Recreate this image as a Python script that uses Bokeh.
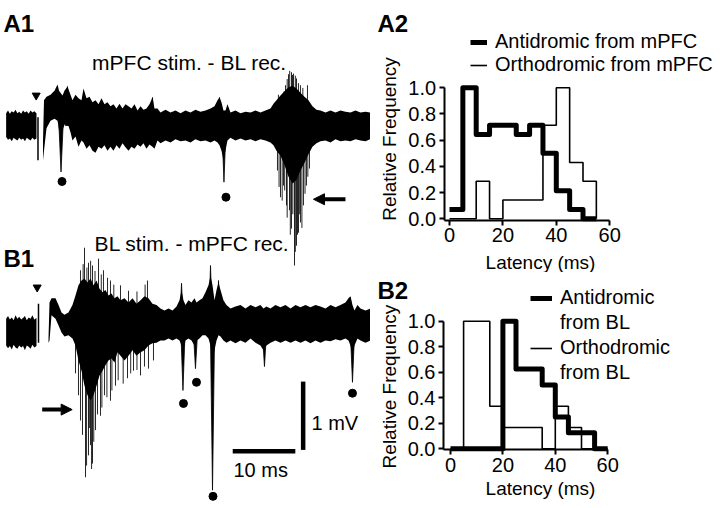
import math
import numpy as np
from bokeh.plotting import figure
from bokeh.layouts import row, column
from bokeh.models import (Range1d, Label, Arrow, NormalHead, Legend, LegendItem,
                          PrintfTickFormatter, FixedTicker, LinearAxis)
from bokeh.embed import file_html
from bokeh.resources import INLINE

FONT = "Liberation Sans"

# ---------------- A1 : mPFC stim. - BL rec. (time ms, voltage mV) ----------------
a1_pre_t = [0.10, 0.40, 0.70, 1.00, 1.30, 1.60, 1.90, 2.20, 2.50, 2.80, 3.10, 3.40, 3.70, 4.00,
            4.30, 4.60, 4.95]
a1_pre_hi = [0.18, 0.22, 0.17, 0.21, 0.19, 0.23, 0.18, 0.20, 0.17, 0.22, 0.19, 0.21, 0.17, 0.22,
             0.19, 0.21, 0.18]
a1_pre_lo = [-0.17, -0.21, -0.19, -0.23, -0.18, -0.20, -0.22, -0.18, -0.21, -0.19, -0.23, -0.18,
             -0.20, -0.22, -0.18, -0.21, -0.19]
a1_t = [5.99, 6.15, 6.55, 7.19, 7.83, 8.31, 8.55, 9.11, 9.42, 9.90, 10.38, 10.70, 11.18, 11.66,
        12.14, 12.46, 12.94, 13.42, 13.90, 14.38, 14.86, 15.34, 15.81, 16.29, 16.77, 17.25, 17.73,
        18.21, 18.69, 19.17, 19.65, 20.13, 20.61, 21.09, 21.57, 22.04, 22.52, 23.00, 23.48, 23.80,
        24.28, 24.76, 25.56, 26.36, 27.16, 27.96, 28.75, 29.55, 30.35, 31.15, 31.95, 32.75, 33.39,
        33.87, 34.19, 34.50, 34.82, 35.14, 35.46, 35.94, 36.74, 37.54, 38.34, 39.14, 39.94, 40.73,
        41.53, 42.33, 42.81, 43.29, 43.93, 44.57, 45.21, 45.85, 46.49, 47.12, 47.76, 48.40, 49.04,
        49.68, 50.32, 51.12, 51.92, 52.72, 53.51, 54.31, 55.11, 55.91, 56.71, 57.51, 58.31]
a1_hi = [-0.22, 0.37, 0.42, 0.45, 0.51, 0.60, 0.51, 0.44, 0.51, 0.57, 0.45, 0.37, 0.45, 0.40,
         0.37, 0.54, 0.40, 0.42, 0.34, 0.37, 0.31, 0.40, 0.31, 0.34, 0.28, 0.31, 0.25, 0.32, 0.25,
         0.31, 0.28, 0.25, 0.31, 0.22, 0.28, 0.23, 0.25, 0.31, 0.41, 0.25, 0.25, 0.19, 0.23, 0.19,
         0.22, 0.18, 0.22, 0.19, 0.23, 0.20, 0.22, 0.25, 0.28, 0.37, 0.41, 0.34, 0.22, 0.22, 0.31,
         0.19, 0.22, 0.18, 0.20, 0.19, 0.22, 0.19, 0.22, 0.25, 0.32, 0.37, 0.44, 0.50, 0.56, 0.58,
         0.54, 0.48, 0.42, 0.37, 0.28, 0.23, 0.22, 0.19, 0.22, 0.19, 0.22, 0.20, 0.19, 0.22, 0.19,
         0.20, 0.19]
a1_lo = [-0.51, -0.37, -0.04, 0.07, 0.10, 0.07, -0.07, -0.07, 0.01, 0.04, -0.10, -0.22, -0.16,
         -0.31, -0.22, -0.25, -0.34, -0.29, -0.37, -0.40, -0.31, -0.34, -0.29, -0.37, -0.31, -0.37,
         -0.29, -0.34, -0.26, -0.32, -0.37, -0.31, -0.34, -0.28, -0.31, -0.26, -0.34, -0.28, -0.31,
         -0.34, -0.22, -0.26, -0.22, -0.25, -0.20, -0.23, -0.22, -0.25, -0.20, -0.23, -0.22, -0.25,
         -0.22, -0.25, -0.29, -0.37, -0.51, -0.37, -0.22, -0.18, -0.22, -0.19, -0.22, -0.20, -0.23,
         -0.20, -0.22, -0.25, -0.29, -0.37, -0.44, -0.58, -0.75, -0.85, -0.80, -0.66, -0.55, -0.42,
         -0.31, -0.26, -0.23, -0.22, -0.25, -0.20, -0.23, -0.22, -0.23, -0.20, -0.22, -0.23, -0.20]
a1_art_t, a1_art_top, a1_art_bot = [5.19], [0.12], [-0.51]
a1_spk_t = [43.45, 43.70, 43.93, 44.20, 44.41, 44.60, 44.89, 45.00, 45.37, 45.50, 45.69, 45.90,
            46.17, 46.30, 46.49, 46.65, 46.81, 47.00, 47.12, 47.35, 47.60, 47.85, 48.08, 48.30,
            48.56,
            43.60, 44.50, 44.73, 45.00, 45.21, 45.40, 45.69, 45.85, 46.01, 46.30, 46.49, 46.80,
            47.12, 47.50, 48.24]
a1_spk_v = [-0.66, -0.90, -1.05, -1.10, -0.88, -0.95, -1.17, -1.35, -1.24, -1.60, -1.51, -1.30,
            -2.05, -1.85, -1.76, -1.60, -1.57, -1.30, -1.42, -1.50, -1.17, -1.00, -0.88, -0.75,
            -0.63,
            0.45, 0.50, 0.59, 0.68, 0.75, 0.80, 0.78, 0.74, 0.76, 0.73, 0.69, 0.62, 0.59, 0.55,
            0.59]
a1_big_t = [8.87, 34.90, 9.90, 23.48, 34.19]
a1_big_v = [-0.68, -0.83, 0.57, 0.41, 0.41]
a1_dot_t = [9.03, 35.22]
a1_dot_v = [-0.82, -1.05]
a1_stim_t, a1_stim_v = [4.90], [0.44]

# ---------------- B1 : BL stim. - mPFC rec. ----------------
b1_pre_t = [0.10, 0.40, 0.70, 1.00, 1.30, 1.60, 1.90, 2.20, 2.50, 2.80, 3.10, 3.40, 3.70, 4.00,
            4.30, 4.60, 4.95]
b1_pre_hi = [0.20, 0.24, 0.19, 0.22, 0.18, 0.25, 0.20, 0.23, 0.19, 0.21, 0.24, 0.18, 0.22, 0.20,
             0.25, 0.19, 0.21]
b1_pre_lo = [-0.19, -0.23, -0.20, -0.25, -0.18, -0.22, -0.24, -0.19, -0.22, -0.20, -0.26, -0.19,
             -0.21, -0.24, -0.18, -0.22, -0.20]
b1_t = [6.87, 7.03, 7.35, 7.99, 8.47, 8.95, 9.42, 10.06, 10.70, 11.18, 11.66, 12.14, 12.62, 13.10,
        13.58, 14.06, 14.54, 15.02, 15.50, 15.97, 16.45, 16.93, 17.41, 17.89, 18.37, 19.01, 19.65,
        20.29, 20.93, 21.57, 22.20, 22.84, 23.48, 24.12, 24.76, 25.40, 26.04, 26.68, 27.32, 27.80,
        28.12, 28.43, 28.75, 29.23, 29.71, 30.19, 30.51, 30.99, 31.47, 31.95, 32.43, 32.75, 33.07,
        33.39, 33.71, 34.03, 34.35, 34.82, 35.30, 35.94, 36.74, 37.54, 38.34, 39.14, 39.94, 40.73,
        41.21, 41.69, 42.33, 43.13, 43.93, 44.73, 45.53, 46.33, 47.12, 47.92, 48.72, 49.52, 50.32,
        51.12, 51.92, 52.72, 53.51, 54.31, 54.79, 55.11, 55.43, 55.75, 56.23, 56.71, 57.51, 58.31]
b1_hi = [-0.09, 0.44, 0.50, 0.50, 0.40, 0.29, 0.26, 0.29, 0.40, 0.54, 0.69, 0.76, 0.79, 0.73,
         0.79, 0.69, 0.76, 0.64, 0.59, 0.62, 0.54, 0.57, 0.50, 0.53, 0.47, 0.50, 0.44, 0.50, 0.42,
         0.47, 0.53, 0.50, 0.42, 0.40, 0.35, 0.32, 0.35, 0.32, 0.38, 0.47, 0.62, 0.47, 0.40, 0.47,
         0.44, 0.50, 0.44, 0.47, 0.50, 0.59, 0.69, 0.83, 0.69, 0.47, 0.62, 0.73, 0.62, 0.47, 0.40,
         0.35, 0.38, 0.40, 0.35, 0.40, 0.37, 0.40, 0.35, 0.38, 0.35, 0.40, 0.37, 0.40, 0.35, 0.40,
         0.37, 0.40, 0.37, 0.40, 0.38, 0.35, 0.40, 0.37, 0.40, 0.44, 0.50, 0.53, 0.40, 0.32, 0.40,
         0.35, 0.32, 0.35]
b1_lo = [-0.15, -0.12, 0.25, 0.20, 0.10, 0.00, -0.06, -0.04, -0.09, -0.19, -0.41, -0.56, -0.78,
         -0.92, -1.00, -0.92, -0.78, -0.63, -0.56, -0.48, -0.41, -0.38, -0.44, -0.29, -0.34, -0.41,
         -0.34, -0.26, -0.34, -0.29, -0.26, -0.19, -0.16, -0.15, -0.12, -0.12, -0.09, -0.12, -0.09,
         -0.12, -0.19, -0.26, -0.12, -0.09, -0.12, -0.19, -0.12, -0.09, -0.04, -0.04, -0.09, -0.19,
         -0.41, -0.26, -0.12, -0.04, -0.06, -0.12, -0.15, -0.12, -0.16, -0.12, -0.15, -0.09, -0.15,
         -0.19, -0.26, -0.19, -0.15, -0.12, -0.15, -0.12, -0.15, -0.12, -0.15, -0.12, -0.16, -0.12,
         -0.15, -0.12, -0.13, -0.10, -0.12, -0.09, -0.12, -0.19, -0.34, -0.19, -0.09, -0.12, -0.15,
         -0.12]
b1_art_t, b1_art_top, b1_art_bot = [5.27], [0.42], [-0.15]
b1_spk_t = [11.18, 11.66, 11.98, 12.30, 12.78, 12.95, 13.26, 13.40, 13.58, 13.75, 13.90, 14.10,
            14.38, 14.70, 15.18, 15.40, 15.81, 16.20, 16.77, 17.00, 17.57, 18.00, 18.80, 19.49,
            20.00, 20.45, 21.00, 21.57, 22.20, 22.84, 23.64,
            11.98, 12.40, 12.62, 13.00, 13.26, 13.60, 13.90, 14.30, 14.86, 15.30, 15.65, 16.30,
            16.77, 17.30, 18.37, 19.65, 21.00, 22.30, 22.68]
b1_spk_v = [-0.60, -0.92, -1.29, -1.50, -2.12, -1.95, -1.80, -1.40, -1.65, -2.00, -1.92, -1.60,
            -1.43, -1.20, -1.22, -1.10, -0.92, -0.95, -1.00, -0.85, -0.78, -0.70, -0.75, -0.67,
            -0.60, -0.56, -0.55, -0.63, -0.50, -0.53, -0.41,
            0.91, 1.00, 1.24, 0.95, 1.02, 1.05, 0.98, 0.90, 1.08, 0.85, 0.91, 0.80, 0.76, 0.70,
            0.69, 0.61, 0.60, 0.70, 0.76]
b1_big_t = [28.35, 30.35, 33.07, 41.37, 55.43, 28.12, 32.75, 34.03, 55.11]
b1_big_v = [-0.85, -0.53, -2.31, -0.50, -0.73, 0.72, 0.98, 0.76, 0.51]
b1_dot_t = [28.43, 30.51, 33.15, 55.43]
b1_dot_v = [-1.04, -0.73, -2.40, -0.89]
b1_stim_t, b1_stim_v = [5.06], [0.66]

# scale bars
scale_ms = 10.0
scale_mv = 1.0

# ---------------- Histograms (relative frequency, 5 ms bins) ----------------
bin_ms = 5
a2_anti = [0.071, 1.0, 0.643, 0.714, 0.714, 0.643, 0.714, 0.5, 0.214, 0.071, 0.0]
a2_ortho = [0.0, 0.0, 0.286, 0.0, 0.143, 0.143, 0.143, 0.714, 1.0, 0.429, 0.286]
b2_anti = [0.0, 0.0, 0.0, 0.0, 1.0, 0.625, 0.625, 0.5, 0.25, 0.125, 0.125, 0.0]
b2_ortho = [0.0, 1.0, 1.0, 0.333, 0.167, 0.167, 0.167, 0.0, 0.333, 0.167, 0.0, 0.0]
x_ticks = [0, 20, 40, 60]
y_ticks = [0.0, 0.2, 0.4, 0.6, 0.8, 1.0]

# ======================= left panel (traces) =======================
OFF_A1 = 0.0
OFF_B1 = -3.03

pL = figure(width=370, height=508, x_range=Range1d(-0.80, 58.31), y_range=Range1d(-5.608, 1.830),
            output_backend="svg", toolbar_location=None, x_axis_location=None,
            y_axis_location=None, min_border=0)
pL.grid.visible = False
pL.outline_line_color = None


def draw_trace(off, pre_t, pre_hi, pre_lo, t, hi, lo, art_t, art_top, art_bot,
               spk_t, spk_v, big_t, big_v, dot_t, dot_v, stim_t, stim_v):
    pL.varea(x=pre_t, y1=np.array(pre_lo) + off, y2=np.array(pre_hi) + off, color="black")
    pL.varea(x=t, y1=np.array(lo) + off, y2=np.array(hi) + off, color="black")
    pL.segment(x0=art_t, y0=np.array(art_top) + off, x1=art_t, y1=np.array(art_bot) + off,
               line_color="black", line_width=1.5)
    pL.segment(x0=spk_t, y0=[off] * len(spk_t), x1=spk_t, y1=np.array(spk_v) + off,
               line_color="black", line_width=1, line_alpha=0.85)
    half = 0.33
    xs = [[ti - half, ti + half, ti] for ti in big_t]
    ys = [[off, off, off + vi] for vi in big_v]
    pL.patches(xs=xs, ys=ys, color="black", line_width=0.8)
    pL.scatter(x=dot_t, y=np.array(dot_v) + off, marker="circle", size=8, color="black")
    pL.scatter(x=stim_t, y=np.array(stim_v) + off, marker="inverted_triangle", size=8,
               color="black")


draw_trace(OFF_A1, a1_pre_t, a1_pre_hi, a1_pre_lo, a1_t, a1_hi, a1_lo, a1_art_t, a1_art_top,
           a1_art_bot, a1_spk_t, a1_spk_v, a1_big_t, a1_big_v, a1_dot_t, a1_dot_v, a1_stim_t,
           a1_stim_v)
draw_trace(OFF_B1, b1_pre_t, b1_pre_hi, b1_pre_lo, b1_t, b1_hi, b1_lo, b1_art_t, b1_art_top,
           b1_art_bot, b1_spk_t, b1_spk_v, b1_big_t, b1_big_v, b1_dot_t, b1_dot_v, b1_stim_t,
           b1_stim_v)

# arrows marking the bursts
a1_arrow = dict(x_start=54.31, x_end=49.20, y=-1.08)
b1_arrow = dict(x_start=5.86, x_end=10.65, y=-1.13)
for arr, off in ((a1_arrow, OFF_A1), (b1_arrow, OFF_B1)):
    pL.add_layout(Arrow(end=NormalHead(size=11, fill_color="black", line_color="black"),
                        x_start=arr["x_start"], y_start=arr["y"] + off, x_end=arr["x_end"],
                        y_end=arr["y"] + off, line_width=4, line_color="black"))

# scale bars
sb_x0, sb_y0 = 36.3, -4.77
pL.segment(x0=[sb_x0], y0=[sb_y0], x1=[sb_x0 + scale_ms], y1=[sb_y0], line_width=4.5,
           line_color="black")
pL.segment(x0=[47.55], y0=[sb_y0 + 0.02], x1=[47.55], y1=[sb_y0 + 0.02 + scale_mv],
           line_width=4.5, line_color="black")


def lab(p, x, y, text, size="20px", align="left", base="middle", bold=False, angle=0.0):
    p.add_layout(Label(x=x, y=y, text=text, text_font=FONT, text_font_size=size,
                       text_align=align, text_baseline=base, angle=angle,
                       text_font_style="bold" if bold else "normal", text_color="black"))


lab(pL, 29.4, 0.92, "mPFC stim. - BL rec.", size="21px", align="center")
lab(pL, 29.8, -1.73, "BL stim. - mPFC rec.", size="21px", align="center")
lab(pL, 48.88, -4.35, "1 mV")
lab(pL, 36.42, -5.05, "10 ms")
lab(pL, -0.32, 1.493, "A1", size="24px", base="alphabetic", bold=True)
lab(pL, -0.32, -1.947, "B1", size="24px", base="alphabetic", bold=True)


# ======================= histograms =======================
def outline(vals):
    xs, ys = [], []
    for i, v in enumerate(vals):
        xs += [i * bin_ms, (i + 1) * bin_ms]
        ys += [v, v]
    xs.append(len(vals) * bin_ms)
    ys.append(0.0)
    return xs, ys


def hist_fig(h, xr, yr, x0, y0):
    p = figure(width=350, height=h, x_range=Range1d(*xr), y_range=Range1d(*yr),
               output_backend="svg", toolbar_location=None, x_axis_location=None,
               y_axis_location=None, min_border=0)
    p.grid.visible = False
    p.outline_line_color = None
    xax = LinearAxis(fixed_location=y0, ticker=FixedTicker(ticks=x_ticks),
                     bounds=(x0, x_ticks[-1]))
    yax = LinearAxis(fixed_location=x0, ticker=FixedTicker(ticks=y_ticks),
                     formatter=PrintfTickFormatter(format="%.1f"), bounds=(y0, y_ticks[-1]))
    for ax in (xax, yax):
        ax.axis_line_width = 2
        ax.axis_line_color = "black"
        ax.major_tick_line_width = 2
        ax.major_tick_line_color = "black"
        ax.major_tick_out = 5
        ax.major_tick_in = 0
        ax.minor_tick_line_color = None
        ax.major_label_text_font = FONT
        ax.major_label_text_font_size = "20px"
        ax.major_label_text_color = "black"
        ax.major_label_standoff = 3
    p.add_layout(xax, "below")
    p.add_layout(yax, "left")
    return p


def legend(items, loc, gw, spacing):
    return Legend(items=items, location=loc, glyph_width=gw, glyph_height=20, label_standoff=8,
                  spacing=spacing, padding=0, margin=0, border_line_color=None,
                  background_fill_alpha=0, label_text_font=FONT, label_text_font_size="20px",
                  label_text_color="black")


# A2
pA = hist_fig(272, (-29.59, 101.50), (-0.410, 1.666), -2.0, -0.013)
xo, yo = outline(a2_ortho)
rA_thin = pA.line(xo, yo, line_color="black", line_width=1.6)
xa, ya = outline(a2_anti)
rA_thick = pA.line(xa, ya, line_color="black", line_width=5, line_join="round")
pA.add_layout(legend([LegendItem(label="Antidromic from mPFC", renderers=[rA_thick]),
                      LegendItem(label="Orthodromic from mPFC", renderers=[rA_thin])],
                     (100, 196), 17, 0))
lab(pA, -26.97, 1.491, "A2", size="24px", base="alphabetic", bold=True)
lab(pA, -22.47, 0.609, "Relative Frequency", size="19px", align="center", angle=math.pi / 2)
lab(pA, 34.08, -0.334, "Latency (ms)", size="19px", align="center")

# B2
pB = hist_fig(236, (-30.53, 103.05), (-0.468, 1.382), -2.67, -0.006)
xo, yo = outline(b2_ortho)
rB_thin = pB.line(xo, yo, line_color="black", line_width=1.6)
xa, ya = outline(b2_anti)
rB_thick = pB.line(xa, ya, line_color="black", line_width=5, line_join="round")
rB_blank = pB.line(x=[], y=[], line_alpha=0)
pB.add_layout(legend([LegendItem(label="Antidromic", renderers=[rB_thick]),
                      LegendItem(label="from BL", renderers=[rB_blank]),
                      LegendItem(label="Orthodromic", renderers=[rB_thin]),
                      LegendItem(label="from BL", renderers=[rB_blank])],
                     (160, 124), 22, 2))
lab(pB, -27.86, 1.241, "B2", size="24px", base="alphabetic", bold=True)
lab(pB, -23.28, 0.488, "Relative Frequency", size="19px", align="center", angle=math.pi / 2)
lab(pB, 34.35, -0.311, "Latency (ms)", size="19px", align="center")

layout = row(pL, column(pA, pB))
open("out.html", "w").write(file_html(layout, INLINE))
